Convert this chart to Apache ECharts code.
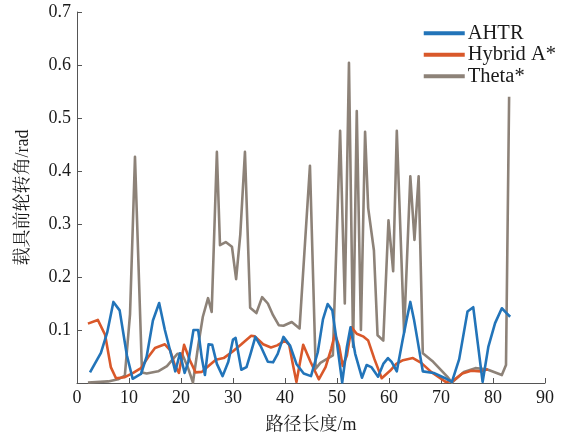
<!DOCTYPE html>
<html>
<head>
<meta charset="utf-8">
<script src="https://cdn.jsdelivr.net/npm/echarts@6/dist/echarts.min.js"></script>
<style>
  html, body { margin: 0; padding: 0; background: #fff; }
  #chart { width: 565px; height: 439px; }
</style>
</head>
<body>
<div id="chart"></div>
<script>
// Front-wheel steering angle along the path, [path length (m), angle (rad)]
const seriesNames = ['AHTR', 'Hybrid A*', 'Theta*'];

const ahtrPoints = [
  [2.5,0.02],[4.6,0.057],[5.8,0.095],[7.0,0.153],[8.2,0.137],[9.6,0.052],[10.7,0.008],
  [12.3,0.017],[13.4,0.05],[14.6,0.118],[15.8,0.151],[16.9,0.1],[18.2,0.05],[18.9,0.022],
  [19.8,0.056],[20.7,0.019],[21.4,0.04],[22.4,0.1],[23.3,0.1],[24.0,0.047],[24.6,0.015],
  [25.3,0.073],[26.0,0.072],[26.9,0.036],[28.0,0.013],[29.1,0.04],[30.0,0.082],[30.5,0.085],
  [31.6,0.025],[32.6,0.03],[33.4,0.056],[34.3,0.087],[35.4,0.068],[36.7,0.04],[37.7,0.039],
  [38.6,0.055],[39.7,0.087],[41.0,0.07],[42.2,0.036],[43.6,0.018],[45.0,0.013],[46.3,0.058],
  [47.3,0.12],[48.2,0.149],[49.1,0.137],[50.0,0.075],[51.0,0.001],[51.9,0.068],[52.6,0.105],
  [53.5,0.055],[54.8,0.01],[55.7,0.034],[56.6,0.03],[57.9,0.012],[58.9,0.036],[59.8,0.047],
  [60.5,0.04],[61.5,0.022],[62.6,0.08],[63.4,0.12],[64.1,0.153],[64.8,0.12],[65.5,0.08],
  [66.5,0.022],[68.6,0.019],[70.6,0.01],[72.1,0.002],[73.5,0.045],[75.1,0.135],[76.2,0.143],
  [77.1,0.073],[78.0,0.002],[79.1,0.068],[80.4,0.113],[81.7,0.141],[82.6,0.132],[83.3,0.125]
];

const hybridPoints = [
  [2.1,0.112],[4.0,0.119],[5.4,0.091],[6.5,0.03],[7.5,0.009],[9.2,0.011],[10.8,0.019],
  [12.3,0.028],[13.7,0.049],[15.0,0.066],[16.9,0.073],[17.9,0.062],[18.8,0.034],[19.6,0.019],
  [20.6,0.072],[21.7,0.043],[22.8,0.02],[24.0,0.021],[25.4,0.033],[26.7,0.044],[28.2,0.047],
  [30.0,0.06],[31.5,0.072],[33.5,0.089],[34.2,0.088],[35.8,0.073],[37.3,0.067],[38.5,0.071],
  [40.0,0.08],[40.8,0.072],[41.5,0.036],[42.2,0.002],[43.5,0.072],[44.9,0.04],[46.5,0.007],
  [47.8,0.03],[48.9,0.065],[49.6,0.092],[50.4,0.07],[51.1,0.032],[51.9,0.052],[52.8,0.105],
  [53.8,0.093],[55.0,0.088],[56.0,0.08],[57.2,0.045],[58.6,0.009],[60.2,0.023],[61.4,0.036],
  [62.7,0.043],[64.6,0.047],[66.2,0.038],[68.1,0.021],[70.9,0.002],[72.3,0.004],[74.1,0.018],
  [75.8,0.023],[77.7,0.022],[79.0,0.026]
];

const thetaPoints = [
  [2.1,0.001],[6.0,0.003],[7.9,0.007],[9.2,0.014],[10.2,0.13],[11.15,0.427],[12.5,0.02],
  [13.4,0.018],[15.6,0.022],[17.3,0.032],[19.3,0.055],[20.2,0.055],[21.3,0.03],[22.3,0.001],
  [23.3,0.07],[24.2,0.125],[25.2,0.16],[25.9,0.134],[26.9,0.436],[27.5,0.26],[28.6,0.266],
  [29.8,0.257],[30.6,0.196],[31.4,0.28],[32.3,0.436],[33.3,0.142],[34.5,0.132],[35.6,0.162],
  [36.7,0.15],[37.7,0.128],[38.8,0.109],[39.7,0.108],[41.3,0.115],[42.8,0.103],[44.8,0.41],
  [45.9,0.027],[46.8,0.038],[49.2,0.052],[50.6,0.476],[51.5,0.15],[52.3,0.604],[53.1,0.068],
  [53.8,0.513],[54.6,0.1],[55.4,0.474],[56.0,0.33],[57.1,0.25],[57.8,0.09],[58.9,0.08],
  [59.9,0.307],[60.8,0.211],[61.5,0.476],[62.9,0.096],[64.1,0.39],[64.9,0.27],[65.7,0.39],
  [66.5,0.056],[68.5,0.04],[71.2,0.012],[72.1,0.001],[74.4,0.021],[76.6,0.028],[78.8,0.026],
  [81.7,0.015],[82.5,0.034],[83.1,0.54]
];

const seriesColors = ['#2274b9', '#d9582a', '#8d8278'];

const xTicks = { min: 0, max: 90, interval: 10 };
const yTicks = { min: 0, max: 0.7, interval: 0.1 };

const fontFamily = "'Liberation Serif', 'Noto Serif CJK SC', 'Noto Sans CJK SC', serif";
const axisColor = '#555';

const chart = echarts.init(document.getElementById('chart'), null, { renderer: 'canvas' });

const pointSets = [ahtrPoints, hybridPoints, thetaPoints];

chart.setOption({
  animation: false,
  backgroundColor: '#fff',
  textStyle: { fontFamily: fontFamily },
  grid: { left: 77, right: 20, top: 12, bottom: 56, containLabel: false },
  legend: {
    right: 4,
    top: 18,
    orient: 'vertical',
    itemWidth: 41,
    itemHeight: 4,
    itemGap: 1,
    icon: 'rect',
    textStyle: { fontFamily: fontFamily, fontSize: 20.5, color: '#1a1a1a', padding: [0, 0, 0, -2] },
    data: seriesNames
  },
  xAxis: {
    type: 'value',
    min: xTicks.min,
    max: xTicks.max,
    interval: xTicks.interval,
    name: '路径长度/m',
    nameLocation: 'middle',
    nameGap: 33,
    nameTextStyle: { fontFamily: fontFamily, fontSize: 18, color: '#1a1a1a' },
    axisLine: { show: true, onZero: false, lineStyle: { color: axisColor, width: 1 } },
    axisTick: { show: true, inside: true, length: 5, lineStyle: { color: axisColor } },
    axisLabel: { fontFamily: fontFamily, fontSize: 18, color: '#1a1a1a', margin: 6 },
    splitLine: { show: false }
  },
  yAxis: {
    type: 'value',
    min: yTicks.min,
    max: yTicks.max,
    interval: yTicks.interval,
    name: '载具前轮转角/rad',
    nameLocation: 'middle',
    nameGap: 45,
    nameTextStyle: { fontFamily: fontFamily, fontSize: 18, color: '#1a1a1a' },
    axisLine: { show: true, lineStyle: { color: axisColor, width: 1 } },
    axisTick: { show: true, inside: true, length: 5, lineStyle: { color: axisColor } },
    axisLabel: {
      fontFamily: fontFamily, fontSize: 18, color: '#1a1a1a', margin: 6,
      formatter: function (v) { return v === 0 ? '' : v.toFixed(1); }
    },
    splitLine: { show: false }
  },
  series: seriesNames.map(function (name, i) {
    return {
      name: name,
      type: 'line',
      data: pointSets[i],
      showSymbol: false,
      symbol: 'none',
      smooth: false,
      color: seriesColors[i],
      lineStyle: { width: 2.6, color: seriesColors[i], join: 'round' },
      z: 3 - i
    };
  })
});
</script>
</body>
</html>
